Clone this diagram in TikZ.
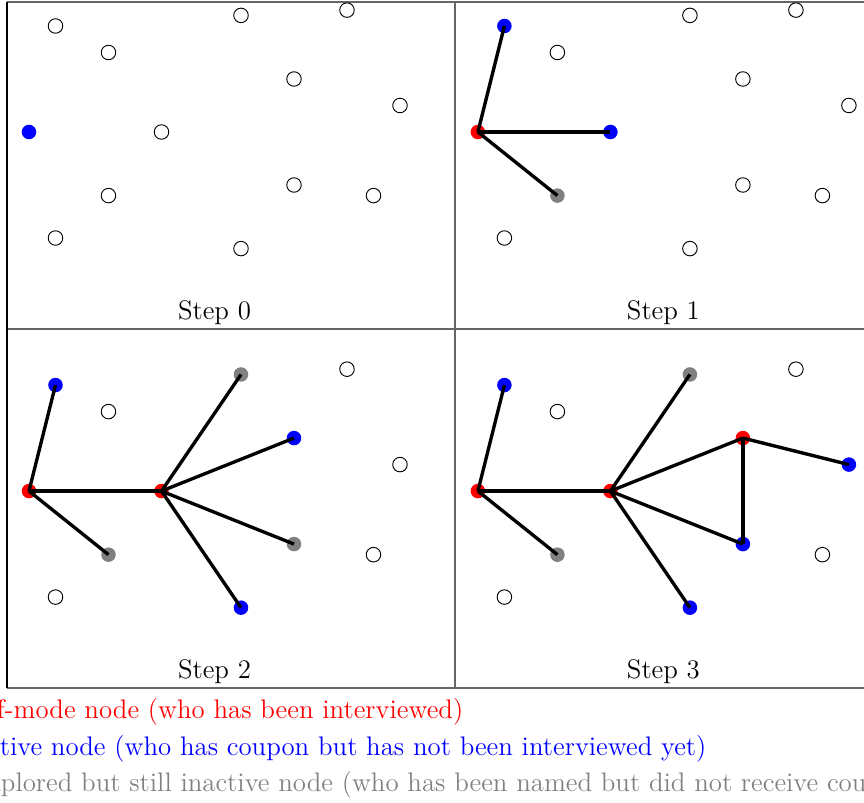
\documentclass[tikz,border=0pt]{standalone}
\usetikzlibrary{positioning}

\begin{document}
\begin{tikzpicture}[x=0.5cm, y=0.5cm, font=\Large,
    dot/.style={circle, inner sep=0pt, minimum size=7.8pt},
    unseen/.style={dot, draw=black, line width=0.5pt, fill=white},
    named/.style={dot, fill=gray},
    coupon/.style={dot, fill=blue},
    interviewed/.style={dot, fill=red},
    link/.style={line width=1.8pt},
    frame/.style={draw=black!60, line width=0.8pt},
    legend/.style={anchor=base west, inner sep=0pt}
]
\useasboundingbox (-1.094,-25.32) rectangle (31.51,4.981);

% frames of the four panels
\draw[frame] (-0.83,4.906) -- (34,4.906);
\draw[frame] (-0.83,-7.43) -- (34,-7.43);
\draw[frame] (-0.83,-20.98) -- (34,-20.98);
\draw[frame] (16.08,4.906) -- (16.08,-20.98);
\draw[black, line width=0.6pt] (-0.83,4.906) -- (-0.83,-20.98);

% Step 0
\begin{scope}[shift={(0,0)}]
\foreach \n/\x/\y/\s in {A/0/0/coupon, B/1/4/unseen, C/3/3/unseen, D/5/0/unseen, E/8/4.4/unseen, F/12/4.6/unseen, G/10/2/unseen, H/14/1/unseen, I/3/-2.4/unseen, J/10/-2/unseen, K/13/-2.4/unseen, L/1/-4/unseen, M/8/-4.4/unseen}
  \node[\s] (s0\n) at (\x,\y) {};
\node[anchor=base] (t0) at (7,-7.06) {Step 0};
\end{scope}

% Step 1
\begin{scope}[shift={(16.94,0)}]
\foreach \n/\x/\y/\s in {A/0/0/interviewed, B/1/4/coupon, C/3/3/unseen, D/5/0/coupon, E/8/4.4/unseen, F/12/4.6/unseen, G/10/2/unseen, H/14/1/unseen, I/3/-2.4/named, J/10/-2/unseen, K/13/-2.4/unseen, L/1/-4/unseen, M/8/-4.4/unseen}
  \node[\s] (s1\n) at (\x,\y) {};
\foreach \t in {B,D,I}
  \draw[link] (s1A.center) -- (s1\t.center);
\node[anchor=base] (t1) at (7,-7.06) {Step 1};
\end{scope}

% Step 2
\begin{scope}[shift={(0,-13.55)}]
\foreach \n/\x/\y/\s in {A/0/0/interviewed, B/1/4/coupon, C/3/3/unseen, D/5/0/interviewed, E/8/4.4/named, F/12/4.6/unseen, G/10/2/coupon, H/14/1/unseen, I/3/-2.4/named, J/10/-2/named, K/13/-2.4/unseen, L/1/-4/unseen, M/8/-4.4/coupon}
  \node[\s] (s2\n) at (\x,\y) {};
\foreach \t in {B,D,I}
  \draw[link] (s2A.center) -- (s2\t.center);
\foreach \t in {E,G,J,M}
  \draw[link] (s2D.center) -- (s2\t.center);
\node[anchor=base] (t2) at (7,-7.06) {Step 2};
\end{scope}

% Step 3
\begin{scope}[shift={(16.94,-13.55)}]
\foreach \n/\x/\y/\s in {A/0/0/interviewed, B/1/4/coupon, C/3/3/unseen, D/5/0/interviewed, E/8/4.4/named, F/12/4.6/unseen, G/10/2/interviewed, H/14/1/coupon, I/3/-2.4/named, J/10/-2/coupon, K/13/-2.4/unseen, L/1/-4/unseen, M/8/-4.4/coupon}
  \node[\s] (s3\n) at (\x,\y) {};
\foreach \t in {B,D,I}
  \draw[link] (s3A.center) -- (s3\t.center);
\foreach \t in {E,G,J,M}
  \draw[link] (s3D.center) -- (s3\t.center);
\foreach \t in {J,H}
  \draw[link] (s3G.center) -- (s3\t.center);
\node[anchor=base] (t3) at (7,-7.06) {Step 3};
\end{scope}

% legend
\node[legend, text=red] (legred) at (-2.27,-22.15) {Off-mode node (who has been interviewed)};
\node[legend, text=blue] (legblue) at (-2.27,-23.54) {Active node (who has coupon but has not been interviewed yet)};
\node[legend, text=gray] (leggray) at (-2.27,-24.9) {Explored but still inactive node (who has been named but did not receive coupon)};
\end{tikzpicture}
\end{document}
